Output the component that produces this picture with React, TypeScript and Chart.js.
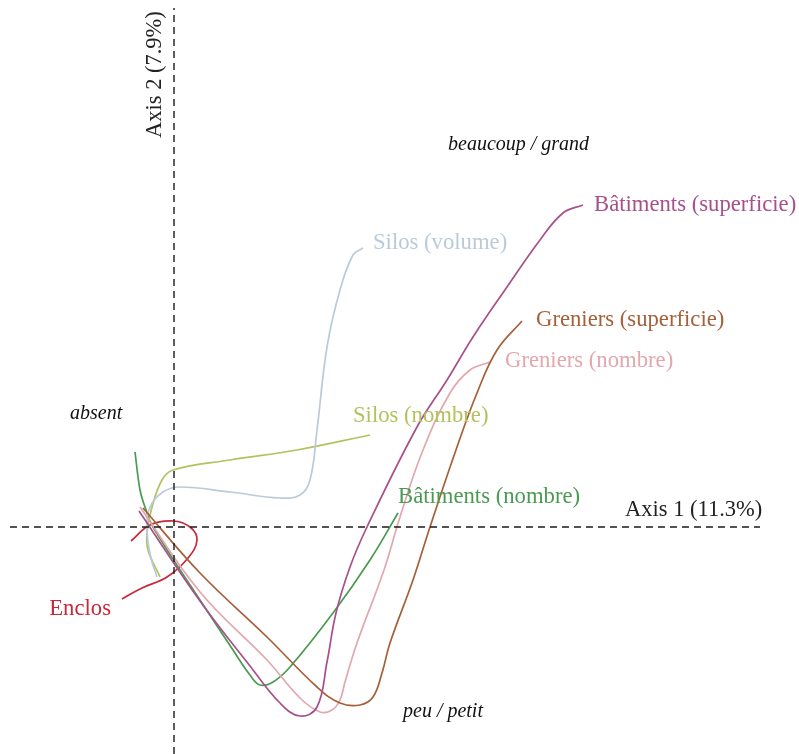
import React, { useEffect, useRef } from "react";
import { Chart, registerables } from "chart.js";

Chart.register(...registerables);

// Correspondence-analysis coordinates (Axis 1, Axis 2)
const batimentsSuperficie: [number, number][] = [
  [-0.35, 0.16], [0.26, -0.74], [0.76, -1.39], [1.06, -1.76], [1.26, -1.89],
  [1.43, -1.8], [1.53, -1.35], [1.62, -0.86], [1.76, -0.4], [1.93, 0.0],
  [2.43, 1.0], [2.73, 1.47], [2.99, 1.9], [3.33, 2.4], [3.66, 2.87],
  [3.89, 3.14], [4.09, 3.22],
];
const batimentsNombre: [number, number][] = [
  [-0.39, 0.75], [-0.34, 0.37], [-0.29, 0.2], [-0.21, 0.0], [0.26, -0.73],
  [0.59, -1.23], [0.76, -1.48], [0.86, -1.58], [0.99, -1.55], [1.16, -1.4],
  [1.59, -0.86], [1.96, -0.33], [2.24, 0.14],
];
const greniersNombre: [number, number][] = [
  [-0.34, 0.2], [0.26, -0.65], [0.93, -1.33], [1.26, -1.71], [1.46, -1.85],
  [1.58, -1.83], [1.66, -1.73], [1.71, -1.55], [1.83, -1.16], [2.1, -0.43],
  [2.26, 0.1], [2.49, 0.77], [2.76, 1.34], [2.96, 1.57], [3.16, 1.65],
];
const greniersSuperficie: [number, number][] = [
  [-0.31, 0.19], [0.26, -0.46], [0.93, -1.1], [1.43, -1.6], [1.66, -1.76],
  [1.86, -1.78], [1.99, -1.7], [2.08, -1.46], [2.16, -1.16], [2.39, -0.53],
  [2.56, 0.0], [2.83, 0.8], [3.03, 1.34], [3.23, 1.77], [3.48, 2.06],
];
const silosVolume: [number, number][] = [
  [-0.17, -0.5], [-0.23, -0.31], [-0.27, -0.03], [-0.24, 0.2], [-0.11, 0.35],
  [0.06, 0.4], [0.56, 0.35], [1.06, 0.29], [1.26, 0.32], [1.36, 0.47],
  [1.43, 0.97], [1.53, 1.8], [1.66, 2.37], [1.79, 2.72], [1.89, 2.79],
];
const silosNombre: [number, number][] = [
  [-0.14, -0.5], [-0.26, -0.23], [-0.27, -0.06], [-0.22, 0.2], [-0.12, 0.47],
  [-0.01, 0.57], [0.56, 0.67], [1.23, 0.77], [1.96, 0.92],
];
const enclos: [number, number][] = [
  [-0.43, -0.14], [-0.24, 0.02], [-0.01, 0.06], [0.16, 0.0], [0.23, -0.13],
  [0.14, -0.31], [-0.07, -0.5], [-0.32, -0.61], [-0.52, -0.72],
];

const seriesNames = [
  "Bâtiments (superficie)",
  "Greniers (superficie)",
  "Greniers (nombre)",
  "Silos (volume)",
  "Silos (nombre)",
  "Bâtiments (nombre)",
  "Enclos",
];
const seriesData = [
  batimentsSuperficie,
  greniersSuperficie,
  greniersNombre,
  silosVolume,
  silosNombre,
  batimentsNombre,
  enclos,
];
const seriesColors = [
  "#a8508c",
  "#a5603a",
  "#e3a7ae",
  "#b9cbdb",
  "#b3c25e",
  "#4a9a52",
  "#c8283a",
];
// label anchor for each series (Axis 1, Axis 2)
const labelAnchors: [number, number][] = [
  [4.2, 3.22],
  [3.62, 2.07],
  [3.31, 1.66],
  [1.99, 2.84],
  [1.79, 1.11],
  [2.24, 0.3],
  [-0.63, -0.82],
];
const labelAlign = ["left", "left", "left", "left", "left", "left", "right"];

const levelNames = ["beaucoup / grand", "absent", "peu / petit"];
const levelAnchors: [number, number][] = [
  [2.74, 3.82],
  [-1.04, 1.13],
  [2.29, -1.85],
];

const axis1Title = "Axis 1 (11.3%)";
const axis2Title = "Axis 2 (7.9%)";
const axis1TitleAnchor: [number, number] = [4.51, 0.17];
const axis2TitleAnchor: [number, number] = [-0.19, 3.89];

const X_MIN = -1.74;
const X_MAX = 6.25;
const Y_MIN = -2.27;
const Y_MAX = 5.27;
const axis1Extent = [-1.64, 5.86];
const axis2Extent = [-2.27, 5.19];

const SERIF = "'Liberation Serif', 'DejaVu Serif', serif";

const labelPlugin = {
  id: "caLabels",
  afterDatasetsDraw(chart: any) {
    const ctx = chart.ctx;
    const xs = chart.scales.x;
    const ys = chart.scales.y;
    ctx.save();
    ctx.textBaseline = "middle";
    // series labels
    ctx.font = `22.7px ${SERIF}`;
    seriesNames.forEach((name, i) => {
      ctx.fillStyle = seriesColors[i];
      ctx.textAlign = labelAlign[i];
      ctx.fillText(
        name,
        xs.getPixelForValue(labelAnchors[i][0]),
        ys.getPixelForValue(labelAnchors[i][1])
      );
    });
    // level labels
    ctx.font = `italic 20px ${SERIF}`;
    ctx.fillStyle = "#111";
    ctx.textAlign = "left";
    levelNames.forEach((name, i) => {
      ctx.fillText(
        name,
        xs.getPixelForValue(levelAnchors[i][0]),
        ys.getPixelForValue(levelAnchors[i][1])
      );
    });
    // axis titles
    ctx.font = `22.5px ${SERIF}`;
    ctx.fillStyle = "#222";
    ctx.fillText(
      axis1Title,
      xs.getPixelForValue(axis1TitleAnchor[0]),
      ys.getPixelForValue(axis1TitleAnchor[1])
    );
    ctx.translate(
      xs.getPixelForValue(axis2TitleAnchor[0]),
      ys.getPixelForValue(axis2TitleAnchor[1])
    );
    ctx.rotate(-Math.PI / 2);
    ctx.fillText(axis2Title, 0, 0);
    ctx.restore();
  },
};

export default function App() {
  const ref = useRef<HTMLCanvasElement | null>(null);
  useEffect(() => {
    document.body.style.margin = "0";
    const canvas = ref.current;
    if (!canvas) return;
    const axisStyle = {
      borderColor: "#1a1a1a",
      borderWidth: 1.4,
      borderDash: [7, 5],
      pointRadius: 0,
      showLine: true,
      tension: 0,
    };
    const datasets: any[] = [
      {
        ...axisStyle,
        label: "axis1",
        data: [
          { x: axis1Extent[0], y: 0 },
          { x: axis1Extent[1], y: 0 },
        ],
      },
      {
        ...axisStyle,
        label: "axis2",
        data: [
          { x: 0, y: axis2Extent[0] },
          { x: 0, y: axis2Extent[1] },
        ],
      },
    ];
    seriesNames.forEach((name, i) => {
      datasets.push({
        label: name,
        data: seriesData[i].map(([x, y]) => ({ x, y })),
        borderColor: seriesColors[i],
        borderWidth: 1.7,
        pointRadius: 0,
        showLine: true,
        tension: 0.4,
        fill: false,
      });
    });
    const chart = new Chart(canvas, {
      type: "scatter",
      data: { datasets },
      options: {
        responsive: false,
        animation: false,
        devicePixelRatio: 1,
        layout: { padding: 0 },
        plugins: {
          legend: { display: false },
          tooltip: { enabled: false },
          title: { display: false },
        },
        elements: { line: { capBezierPoints: false } },
        scales: {
          x: { type: "linear", display: false, min: X_MIN, max: X_MAX },
          y: { type: "linear", display: false, min: Y_MIN, max: Y_MAX },
        },
      } as any,
      plugins: [labelPlugin],
    });
    return () => chart.destroy();
  }, []);
  return (
    <canvas
      ref={ref}
      width={799}
      height={754}
      style={{ display: "block", width: 799, height: 754 }}
    />
  );
}
